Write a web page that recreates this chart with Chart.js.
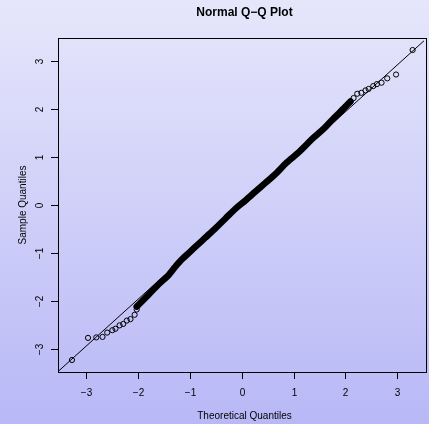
<!DOCTYPE html>
<html>
<head>
<meta charset="utf-8">
<script src="https://cdn.jsdelivr.net/npm/chart.js@4"></script>
<style>
  html, body { margin: 0; padding: 0; overflow: hidden; }
  #qq { display: block; background: linear-gradient(to bottom, #e6e6fb, #b8b8f7); }
</style>
</head>
<body>
<canvas id="qq" width="429" height="424"></canvas>
<script>
// values
const tailTheoretical = [-3.28, -2.97, -2.81, -2.69, -2.60, -2.50, -2.44, -2.36, -2.29, -2.22, -2.15, -2.07, -2.03,
                         1.91, 2.00, 2.10, 2.16, 2.23, 2.31, 2.39, 2.45, 2.54, 2.61, 2.70, 2.81, 2.98, 3.30];
const tailSample      = [-3.23, -2.77, -2.76, -2.75, -2.66, -2.61, -2.58, -2.51, -2.48, -2.41, -2.38, -2.29, -2.18,
                         1.94, 2.04, 2.15, 2.22, 2.31, 2.33, 2.38, 2.41, 2.47, 2.51, 2.54, 2.63, 2.71, 3.22];

// the dense middle, where the circles run together into a band
const bodyTheoretical = [-2.03, -1.90, -1.80, -1.61, -1.42, -1.30, -1.17, -1.01, -0.85, -0.71, -0.50, -0.31, -0.12,
                         0.07, 0.26, 0.45, 0.67, 0.86, 1.12, 1.37, 1.59, 1.75, 1.88, 2.00, 2.10];
const bodySample      = [-2.12, -1.98, -1.87, -1.66, -1.47, -1.31, -1.15, -0.99, -0.83, -0.69, -0.48, -0.28, -0.08,
                         0.09, 0.27, 0.45, 0.66, 0.87, 1.11, 1.38, 1.59, 1.77, 1.91, 2.04, 2.15];

// qqline end points
const lineX = [-3.6, 3.6];
const lineY = [-3.52, 3.49];

const xTicks = [-3, -2, -1, 0, 1, 2, 3];
const yTicks = [-3, -2, -1, 0, 1, 2, 3];

const toXY = (xs, ys) => xs.map((x, i) => ({ x: x, y: ys[i] }));
const label = v => (v < 0 ? '\u2212' + Math.abs(v) : String(v));
const FONT = '"Liberation Sans", Arial, Helvetica, sans-serif';

const rAxes = {
  id: 'rAxes',
  afterDraw(chart) {
    const c = chart.ctx, a = chart.chartArea;
    const xs = chart.scales.x, ys = chart.scales.y;
    c.save();
    c.strokeStyle = '#000';
    c.fillStyle = '#000';
    c.lineWidth = 1;
    // box
    c.strokeRect(a.left + 0.5, a.top + 0.5, a.right - a.left + 2, a.bottom - a.top);
    // x ticks
    c.font = '10px ' + FONT;
    c.textAlign = 'center';
    c.textBaseline = 'middle';
    xTicks.forEach(t => {
      const px = Math.round(xs.getPixelForValue(t)) + 0.5;
      c.beginPath();
      c.moveTo(px, a.bottom);
      c.lineTo(px, a.bottom + 7);
      c.stroke();
      c.fillText(label(t), px, a.bottom + 21);
    });
    // y ticks
    yTicks.forEach(t => {
      const py = Math.round(ys.getPixelForValue(t)) + 0.5;
      c.beginPath();
      c.moveTo(a.left, py);
      c.lineTo(a.left - 7, py);
      c.stroke();
      c.save();
      c.translate(a.left - 18, py);
      c.rotate(-Math.PI / 2);
      c.fillText(label(t), 0, 0);
      c.restore();
    });
    // axis titles
    c.fillText('Theoretical Quantiles', 244.5, 416);
    c.save();
    c.translate(23, (a.top + a.bottom) / 2);
    c.rotate(-Math.PI / 2);
    c.fillText('Sample Quantiles', 0, 0);
    c.restore();
    // main title
    c.font = 'bold 12px ' + FONT;
    c.fillText('Normal Q\u2212Q Plot', 244.5, 13);
    c.restore();
  }
};

new Chart(document.getElementById('qq'), {
  type: 'scatter',
  data: {
    datasets: [
      {
        type: 'line',
        data: toXY(lineX, lineY),
        borderColor: '#000',
        borderWidth: 1,
        pointRadius: 0,
        order: 0
      },
      {
        data: toXY(tailTheoretical, tailSample),
        pointRadius: 2.6,
        pointBorderWidth: 1,
        borderColor: '#000',
        backgroundColor: 'rgba(0,0,0,0)',
        order: 1
      },
      {
        type: 'line',
        data: toXY(bodyTheoretical, bodySample),
        borderColor: '#000',
        borderWidth: 6.5,
        borderCapStyle: 'round',
        borderJoinStyle: 'round',
        tension: 0.3,
        pointRadius: 0,
        order: 2
      }
    ]
  },
  options: {
    responsive: false,
    animation: false,
    devicePixelRatio: 1,
    layout: { padding: { left: 58, top: 38, right: 0, bottom: 52 } },
    plugins: { legend: { display: false }, tooltip: { enabled: false } },
    scales: {
      x: { type: 'linear', min: -3.55, max: 3.52, display: false },
      y: { type: 'linear', min: -3.48, max: 3.47, display: false }
    }
  },
  plugins: [rAxes]
});
</script>
</body>
</html>
